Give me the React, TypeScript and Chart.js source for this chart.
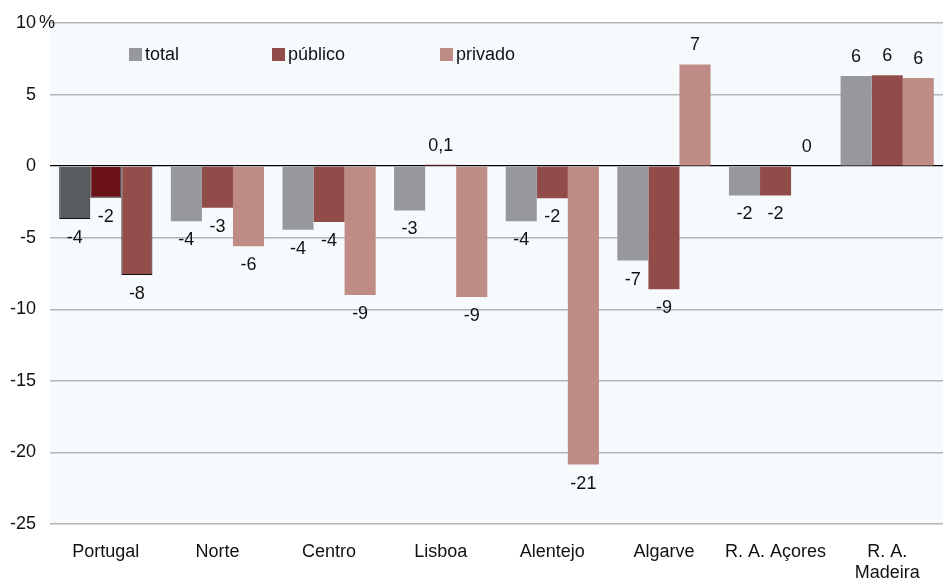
import React, { useEffect, useRef } from "react";
import { Chart, registerables } from "chart.js";

Chart.register(...registerables);

const categories: (string | string[])[] = [
  "Portugal",
  "Norte",
  "Centro",
  "Lisboa",
  "Alentejo",
  "Algarve",
  "R. A. Açores",
  ["R. A.", "Madeira"],
];
const totalValues = [-3.7, -3.85, -4.45, -3.1, -3.85, -6.6, -2.05, 6.3];
const publicoValues = [-2.2, -2.9, -3.9, 0.1, -2.25, -8.6, -2.05, 6.35];
const privadoValues = [-7.6, -5.6, -9.0, -9.15, -20.85, 7.1, 0, 6.15];
const totalLabels = ["-4", "-4", "-4", "-3", "-4", "-7", "-2", "6"];
const publicoLabels = ["-2", "-3", "-4", "0,1", "-2", "-9", "-2", "6"];
const privadoLabels = ["-8", "-6", "-9", "-9", "-21", "7", "0", "6"];
const seriesNames = ["total", "público", "privado"];
const yTicks = [10, 5, 0, -5, -10, -15, -20, -25];

const FONT = "'Liberation Sans', Arial, sans-serif";
const baseColors = ["#97989c", "#914c4a", "#be8b85"];
const highlightColors = ["#5a5d60", "#6b1219", "#934d4b"];

export default function App() {
  const ref = useRef<HTMLCanvasElement | null>(null);
  useEffect(() => {
    if (!ref.current) return;
    const labelSets = [totalLabels, publicoLabels, privadoLabels];
    const valueSets = [totalValues, publicoValues, privadoValues];
    const mkDataset = (i: number) => ({
      label: seriesNames[i],
      data: valueSets[i],
      backgroundColor: categories.map((_, k) => (k === 0 ? highlightColors[i] : baseColors[i])),
      borderColor: categories.map((_, k) => (k === 0 ? "#111" : "rgba(0,0,0,0)")),
      borderWidth: categories.map((_, k) => (k === 0 ? 1 : 0)),
      borderSkipped: "start" as const,
      barPercentage: 1,
      categoryPercentage: 0.835,
    });

    const plugin = {
      id: "custom",
      beforeDraw(chart: any) {
        const { ctx, chartArea } = chart;
        ctx.save();
        ctx.fillStyle = "#f7fafd";
        ctx.fillRect(chartArea.left, chartArea.top, chartArea.right - chartArea.left, chartArea.bottom - chartArea.top);
        ctx.restore();
      },
      afterDraw(chart: any) {
        const { ctx } = chart;
        ctx.save();
        ctx.font = `18px ${FONT}`;
        ctx.fillStyle = "#111";
        ctx.textAlign = "center";
        ctx.textBaseline = "middle";
        chart.data.datasets.forEach((ds: any, di: number) => {
          const meta = chart.getDatasetMeta(di);
          meta.data.forEach((bar: any, k: number) => {
            const v = ds.data[k];
            const y = v < 0 ? bar.y + 19 : bar.y - 19;
            ctx.fillText(labelSets[di][k], bar.x, y);
          });
        });
        // legend
        const legendX = [129, 272, 440];
        ctx.textAlign = "left";
        seriesNames.forEach((n, i) => {
          ctx.fillStyle = baseColors[i];
          ctx.fillRect(legendX[i], 48, 13, 13);
          ctx.fillStyle = "#111";
          ctx.fillText(n, legendX[i] + 16, 55);
        });
        // percent sign
        const ys = chart.scales.y;
        ctx.textAlign = "left";
        ctx.fillText("%", 39, ys.getPixelForValue(10));
        ctx.restore();
      },
    };

    const chart = new Chart(ref.current, {
      type: "bar",
      data: {
        labels: categories,
        datasets: [mkDataset(0), mkDataset(1), mkDataset(2)],
      },
      options: {
        animation: false,
        responsive: false,
        maintainAspectRatio: false,
        layout: { padding: { top: 12, right: 0, left: 0, bottom: 0 } },
        plugins: { legend: { display: false }, tooltip: { enabled: false } },
        scales: {
          x: {
            grid: { display: false, drawTicks: false },
            border: { display: false },
            ticks: {
              color: "#111",
              font: { family: FONT, size: 18 },
              padding: 17,
              maxRotation: 0,
              autoSkip: false,
            },
            afterFit(scale: any) {
              scale.height = 58;
            },
          },
          y: {
            min: -25,
            max: 10,
            afterBuildTicks(scale: any) {
              scale.ticks = yTicks.map((v) => ({ value: v }));
            },
            grid: {
              drawTicks: false,
              color: (c: any) => (c.tick && c.tick.value === 0 ? "#000" : "#b3b6b9"),
              lineWidth: (c: any) => (c.tick && c.tick.value === 0 ? 1.3 : 1.4),
            },
            border: { display: false },
            ticks: {
              color: "#111",
              font: { family: FONT, size: 18, lineHeight: 1 },
              padding: 14,
            },
            afterFit(scale: any) {
              scale.width = 50;
            },
          },
        },
      },
      plugins: [plugin],
    });
    return () => chart.destroy();
  }, []);

  return (
    <div style={{ position: "absolute", left: 0, top: 0, width: 943, height: 582, background: "#fff" }}>
      <canvas ref={ref} width={943} height={582} style={{ width: 943, height: 582 }} />
    </div>
  );
}
